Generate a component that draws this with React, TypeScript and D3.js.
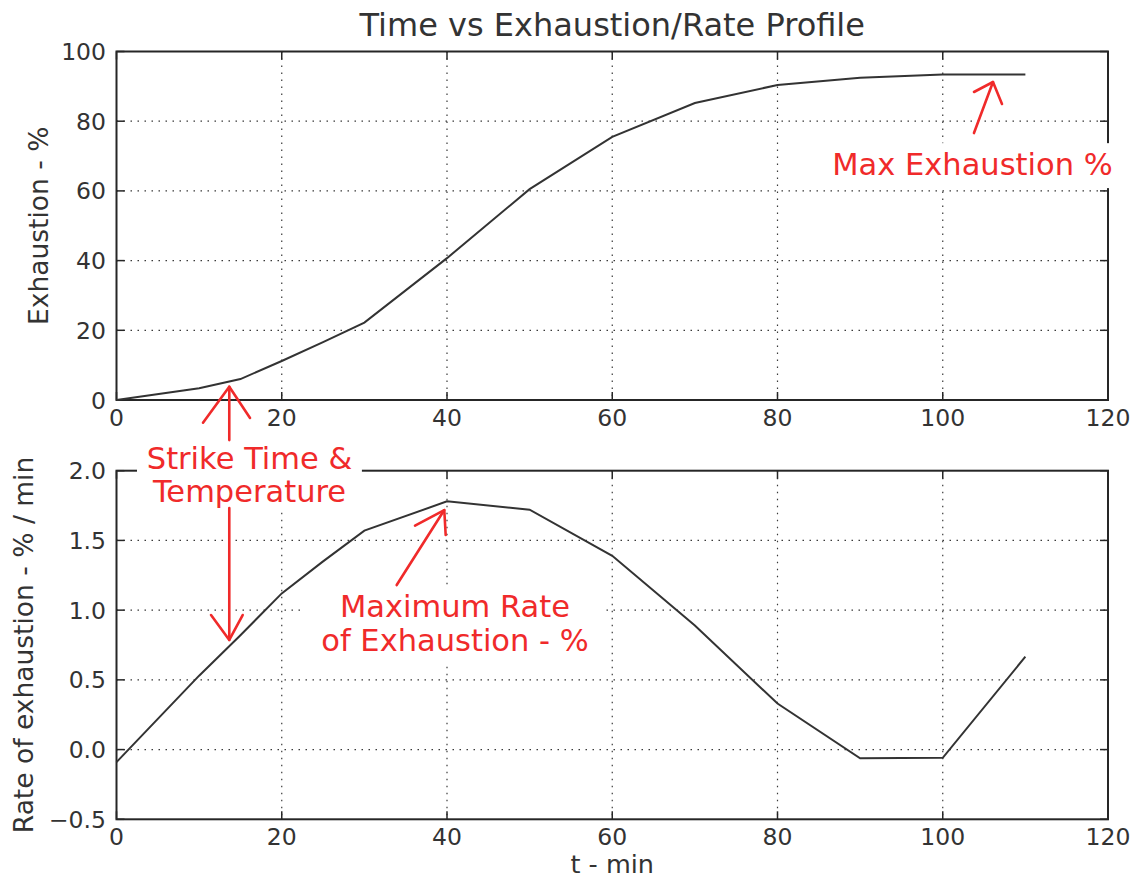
import React from "react";
import * as d3 from "d3";

const tValues = [0, 10, 15, 20, 25, 30, 40, 50, 60, 70, 80, 90, 100, 110];
const exhaustion = [0, 3.4, 6.0, 11.2, 16.6, 22.2, 40.7, 60.5, 75.5, 85.2, 90.4, 92.5, 93.4, 93.4];
const rate = [-0.09, 0.53, 0.82, 1.12, 1.35, 1.57, 1.78, 1.72, 1.39, 0.89, 0.33, -0.063, -0.059, 0.666];

const xTicks = [0, 20, 40, 60, 80, 100, 120];
const topYTicks = [0, 20, 40, 60, 80, 100];
const botYTicks = [-0.5, 0, 0.5, 1.0, 1.5, 2.0];

const TITLE = "Time vs Exhaustion/Rate Profile";
const X_LABEL = "t - min";
const TOP_Y_LABEL = "Exhaustion - %";
const BOT_Y_LABEL = "Rate of exhaustion - % / min";

const W = 1135;
const H = 879;
const L = 116.5;
const R = 1108;
const TOP = { t: 51.5, b: 400 };
const BOT = { t: 470.7, b: 819.3 };

const FONT = "'DejaVu Sans', 'Liberation Sans', sans-serif";
const INK = "#333333";
const SPINE = "#262626";
const RED = "#f02a2a";

const x = d3.scaleLinear().domain([0, 120]).range([L, R]);
const yTop = d3.scaleLinear().domain([0, 100]).range([TOP.b, TOP.t]);
const yBot = d3.scaleLinear().domain([-0.5, 2.0]).range([BOT.b, BOT.t]);

type Pt = [number, number];

function Axes({
  y,
  yTicks,
  fmt,
  box,
}: {
  y: d3.ScaleLinear<number, number>;
  yTicks: number[];
  fmt: (v: number) => string;
  box: { t: number; b: number };
}) {
  const tickLen = 8;
  return (
    <g>
      {xTicks.slice(1, -1).map((v) => (
        <line key={"gx" + v} x1={x(v)} x2={x(v)} y1={box.t} y2={box.b}
          stroke="#3a3a3a" strokeWidth={1.2} strokeDasharray="1.5,5.5" />
      ))}
      {yTicks.slice(1, -1).map((v) => (
        <line key={"gy" + v} x1={L} x2={R} y1={y(v)} y2={y(v)}
          stroke="#3a3a3a" strokeWidth={1.2} strokeDasharray="1.5,5.5" />
      ))}
      {xTicks.map((v) => (
        <g key={"tx" + v}>
          <line x1={x(v)} x2={x(v)} y1={box.b} y2={box.b - tickLen} stroke={SPINE} strokeWidth={1.5} />
          <line x1={x(v)} x2={x(v)} y1={box.t} y2={box.t + tickLen} stroke={SPINE} strokeWidth={1.5} />
          <text x={x(v)} y={box.b + 26} textAnchor="middle" fontSize={23.5} fill={INK} fontFamily={FONT}>
            {String(v)}
          </text>
        </g>
      ))}
      {yTicks.map((v) => (
        <g key={"ty" + v}>
          <line x1={L} x2={L + tickLen} y1={y(v)} y2={y(v)} stroke={SPINE} strokeWidth={1.5} />
          <line x1={R} x2={R - tickLen} y1={y(v)} y2={y(v)} stroke={SPINE} strokeWidth={1.5} />
          <text x={L - 10.5} y={y(v) + 8.5} textAnchor="end" fontSize={23.5} fill={INK} fontFamily={FONT}>
            {fmt(v)}
          </text>
        </g>
      ))}
      <rect x={L} y={box.t} width={R - L} height={box.b - box.t} fill="none" stroke={SPINE} strokeWidth={2} />
    </g>
  );
}

function Arrow({ pts, head }: { pts: Pt[]; head: Pt[] }) {
  return (
    <g stroke={RED} strokeWidth={2.6} fill="none" strokeLinecap="round" strokeLinejoin="round">
      <polyline points={pts.map((p) => p.join(",")).join(" ")} />
      <polyline points={head.map((p) => p.join(",")).join(" ")} />
    </g>
  );
}

export default function App() {
  const data = tValues.map((t, i) => ({ t, e: exhaustion[i], r: rate[i] }));
  const lineTop = d3.line<{ t: number; e: number; r: number }>().x((d) => x(d.t)).y((d) => yTop(d.e));
  const lineBot = d3.line<{ t: number; e: number; r: number }>().x((d) => x(d.t)).y((d) => yBot(d.r));
  const fmtTop = (v: number) => String(v);
  const fmtBot = (v: number) => d3.format(".1f")(v).replace("-", "\u2212");

  const pT = (a: number, b: number): Pt => [x(a), yTop(b)];
  const pB = (a: number, b: number): Pt => [x(a), yBot(b)];

  const redText = { fill: RED, fontFamily: FONT, fontSize: 30.5, textAnchor: "middle" as const };

  return (
    <svg width={W} height={H} style={{ position: "absolute", left: 0, top: 0, background: "#fff" }}>
      <rect x={0} y={0} width={W} height={H} fill="#fff" />
      <text x={(L + R) / 2} y={36} textAnchor="middle" fontSize={32} fill={INK} fontFamily={FONT}>
        {TITLE}
      </text>

      <Axes y={yTop} yTicks={topYTicks} fmt={fmtTop} box={TOP} />
      <Axes y={yBot} yTicks={botYTicks} fmt={fmtBot} box={BOT} />

      <path d={lineTop(data) || ""} fill="none" stroke={INK} strokeWidth={2} />
      <path d={lineBot(data) || ""} fill="none" stroke={INK} strokeWidth={2} />

      <text transform={`translate(48,${(TOP.t + TOP.b) / 2}) rotate(-90)`} textAnchor="middle"
        fontSize={26.5} fill={INK} fontFamily={FONT}>{TOP_Y_LABEL}</text>
      <text transform={`translate(33,${(BOT.t + BOT.b) / 2}) rotate(-90)`} textAnchor="middle"
        fontSize={26.5} fill={INK} fontFamily={FONT}>{BOT_Y_LABEL}</text>
      <text x={(L + R) / 2} y={873} textAnchor="middle" fontSize={25.5} fill={INK} fontFamily={FONT}>
        {X_LABEL}
      </text>

      {(() => {
        const b1a = pT(81.5, 73.7), b1b = pT(121.5, 60.8);
        const b2a = pB(2.48, 2.22), b2b = pB(29.7, 1.7325);
        const b3a = pB(22.6, 1.18), b3b = pB(59.13, 0.607);
        return (
          <g fill="#fff">
            <rect x={b1a[0]} y={b1a[1]} width={b1b[0] - b1a[0]} height={b1b[1] - b1a[1]} />
            <rect x={b2a[0]} y={b2a[1]} width={b2b[0] - b2a[0]} height={b2b[1] - b2a[1]} />
            <rect x={b3a[0]} y={b3a[1]} width={b3b[0] - b3a[0]} height={b3b[1] - b3a[1]} />
          </g>
        );
      })()}

      <Arrow pts={[pT(103.78, 76.6), pT(106.08, 91.25)]}
        head={[pT(103.78, 88.38), pT(106.08, 91.25), pT(107.17, 84.93)]} />
      <text x={x(103.6)} y={yTop(64.56)} {...redText}>Max Exhaustion %</text>

      <Arrow pts={[pT(13.65, -11.5), pT(13.65, 3.82)]}
        head={[pT(10.47, -6.51), pT(13.65, 3.82), pT(16.16, -5.16)]} />
      <Arrow pts={[pB(13.65, 1.7325), pB(13.65, 0.786)]}
        head={[pB(11.44, 0.965), pB(13.65, 0.786), pB(15.27, 0.965)]} />
      <text x={x(16.1)} y={yBot(2.015)} {...redText}>Strike Time &amp;</text>
      <text x={x(16.1)} y={yBot(1.772)} {...redText}>Temperature</text>

      <Arrow pts={[pB(33.91, 1.18), pB(39.67, 1.718)]}
        head={[pB(36.13, 1.6055), pB(39.67, 1.718), pB(39.84, 1.539)]} />
      <text x={x(40.97)} y={yBot(0.951)} {...redText}>Maximum Rate</text>
      <text x={x(40.97)} y={yBot(0.707)} {...redText}>of Exhaustion - %</text>
    </svg>
  );
}
